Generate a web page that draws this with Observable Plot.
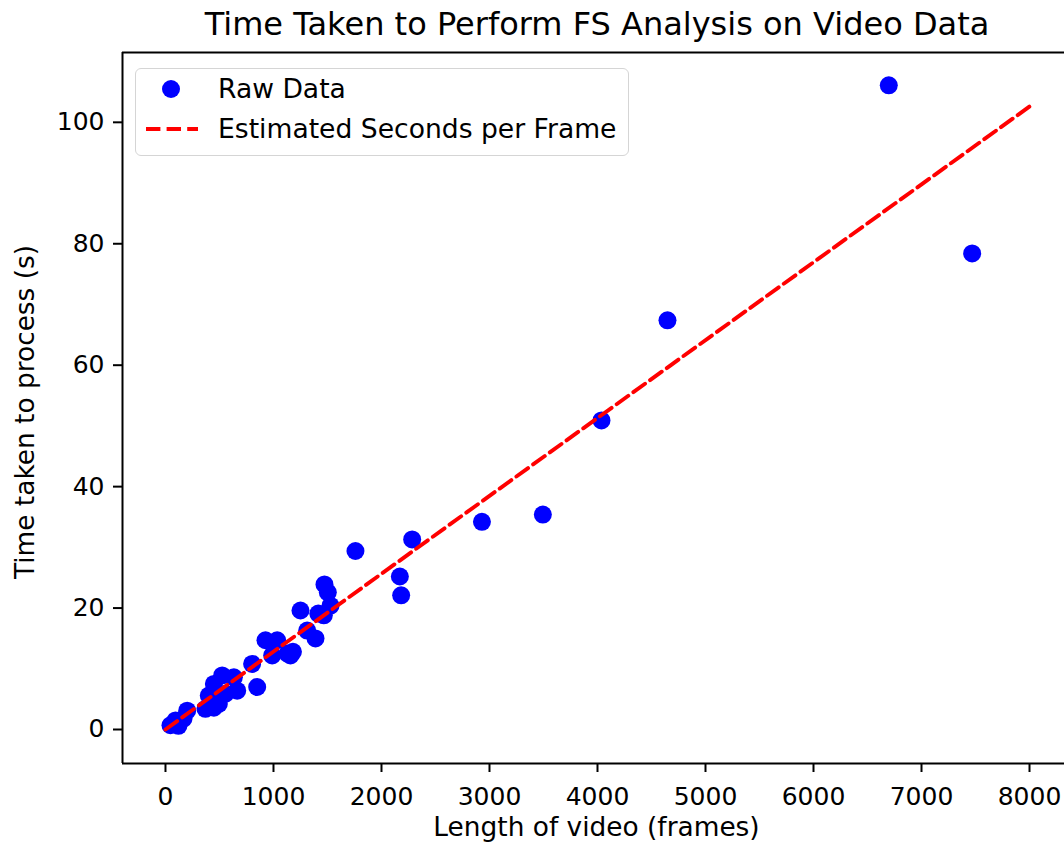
<!DOCTYPE html>
<html>
<head>
<meta charset="utf-8">
<script src="https://cdn.jsdelivr.net/npm/d3@7"></script>
<script src="https://cdn.jsdelivr.net/npm/@observablehq/plot@0.6"></script>
<style>
  html, body { margin: 0; padding: 0; background: white; }
  #wrap { position: relative; width: 1064px; height: 844px; font-family: "DejaVu Sans", sans-serif; color: black; overflow: hidden; }
  #title { height: 48px; line-height: 48px; font-size: 32px; text-align: center; white-space: nowrap; padding-left: 130px; }
  #legend { position: absolute; left: 135px; top: 68px; width: 494px; height: 88px; border: 1.5px solid #d5d5d5; border-radius: 6px; background: rgba(255,255,255,0.8); box-sizing: border-box; }
  #legend svg { position: absolute; left: 0; top: 0; }
  .lt { position: absolute; left: 82px; font-size: 26.6px; line-height: 30px; white-space: nowrap; }
</style>
</head>
<body>
<div id="wrap">
  <div id="title">Time Taken to Perform FS Analysis on Video Data</div>
  <div id="chart"></div>
  <div id="legend">
    <svg width="80" height="88">
      <circle cx="35" cy="20" r="9" fill="blue"></circle>
      <line x1="10" y1="60" x2="62" y2="60" stroke="red" stroke-width="3.9" stroke-dasharray="14.4,6.2"></line>
    </svg>
    <div class="lt" style="top:5px">Raw Data</div>
    <div class="lt" style="top:45px">Estimated Seconds per Frame</div>
  </div>
</div>
<script>
// Raw data: video length (frames) and processing time (s)
const frames = [6697, 7469, 4648, 4037, 3494, 2930, 2284, 2170, 2182, 1759,
                1472, 1503, 1528, 1466, 1415, 1250, 1312, 1389, 926, 1034,
                988, 1157, 1130, 1180, 802, 849, 525, 633, 448, 664,
                401, 556, 370, 448, 494, 201, 93, 46, 120, 167];
const seconds = [106.1, 78.4, 67.4, 50.9, 35.4, 34.2, 31.3, 25.2, 22.1, 29.4,
                 23.9, 22.6, 20.4, 18.8, 19.1, 19.6, 16.3, 15.0, 14.7, 14.7,
                 12.2, 12.2, 12.5, 12.8, 10.8, 7.0, 8.9, 8.6, 7.5, 6.4,
                 5.6, 5.9, 3.4, 3.6, 4.2, 3.1, 1.5, 0.7, 0.6, 1.8];
// Estimated seconds-per-frame line endpoints
const fitFrames = [0, 8000];
const fitSeconds = [0, 102.6];
// Axes
const xTicks = [0, 1000, 2000, 3000, 4000, 5000, 6000, 7000, 8000];
const yTicks = [0, 20, 40, 60, 80, 100];
const xDomain = [-398, 8324];
const yDomain = [-5.6, 111.5];
const xLabel = "Length of video (frames)";
const yLabel = "Time taken to process (s)";

const points = frames.map((f, i) => ({frames: f, seconds: seconds[i]}));
const fit = fitFrames.map((f, i) => ({frames: f, seconds: fitSeconds[i]}));

const chart = Plot.plot({
  width: 1064,
  height: 796,
  marginTop: 4,
  marginLeft: 122,
  marginRight: 0,
  marginBottom: 81,
  style: {fontFamily: "DejaVu Sans", fontSize: "25px", color: "black", background: "white", overflow: "visible"},
  x: {domain: xDomain},
  y: {domain: yDomain},
  marks: [
    Plot.axisX({ticks: xTicks, tickSize: 9, tickPadding: 15, strokeWidth: 2, label: null, fontSize: 25, tickFormat: d => String(d)}),
    Plot.axisY({ticks: yTicks, tickSize: 9, tickPadding: 9, strokeWidth: 2, label: null, fontSize: 25, tickFormat: d => String(d)}),
    Plot.dot(points, {x: "frames", y: "seconds", r: 9, fill: "blue"}),
    Plot.line(fit, {x: "frames", y: "seconds", stroke: "red", strokeWidth: 3.9, strokeDasharray: "14.4,6.2"}),
    Plot.ruleX([xDomain[0]], {stroke: "black", strokeWidth: 2}),
    Plot.ruleY(yDomain, {stroke: "black", strokeWidth: 2}),
    Plot.text([xLabel], {text: d => d, frameAnchor: "bottom", textAnchor: "middle", lineAnchor: "middle", dx: 3, dy: 64, fontSize: 26.4}),
    Plot.text([yLabel], {text: d => d, frameAnchor: "left", textAnchor: "middle", lineAnchor: "middle", rotate: -90, dx: -97, dy: 4, fontSize: 26.4})
  ]
});
document.getElementById("chart").appendChild(chart);
</script>
</body>
</html>
